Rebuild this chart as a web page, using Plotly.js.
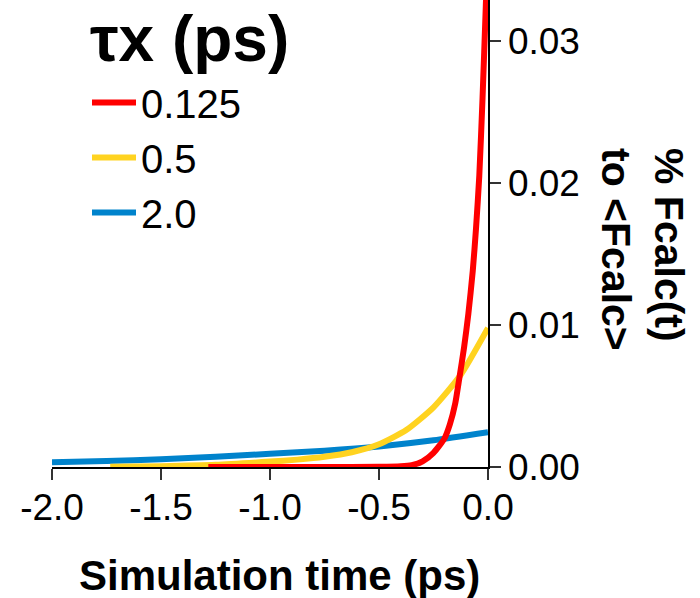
<!DOCTYPE html>
<html>
<head>
<meta charset="utf-8">
<script src="https://cdn.plot.ly/plotly-3.0.1.min.js"></script>
<style>
  html, body { margin: 0; padding: 0; background: #fff; }
  #chart { width: 700px; height: 598px; }
</style>
</head>
<body>
<div id="chart"></div>
<script>
// ---- data ----
const seriesNames = ['0.125', '0.5', '2.0'];
const seriesColors = ['#FF0000', '#FFD320', '#0083CC'];

const tRed = [-1.283, -1.0, -0.75, -0.5, -0.4, -0.35, -0.3, -0.25, -0.2, -0.175, -0.15, -0.132, -0.11, -0.09, -0.07, -0.055, -0.04, -0.025, -0.01, 0.0];
const wRed = [0.0, 0.0, 0.0, 0.00001, 0.00005, 0.00013, 0.0004, 0.001, 0.002, 0.003, 0.0045, 0.0062, 0.0084, 0.0108, 0.0138, 0.0168, 0.0205, 0.026, 0.0325, 0.037];

const tYellow = [-1.733, -1.5, -1.25, -1.0, -0.875, -0.75, -0.625, -0.5, -0.375, -0.25, -0.125, 0.0];
const wYellow = [0.00002, 0.00006, 0.00015, 0.00038, 0.00052, 0.00072, 0.00104, 0.0016, 0.0026, 0.0042, 0.0065, 0.0098];

const tBlue = [-2.0, -1.75, -1.5, -1.25, -1.0, -0.75, -0.5, -0.25, 0.0];
const wBlue = [0.00033, 0.00042, 0.00055, 0.00072, 0.00093, 0.00115, 0.00145, 0.00188, 0.00245];

const xTickVals = [-2.0, -1.5, -1.0, -0.5, 0.0];
const xTickText = ['-2.0', '-1.5', '-1.0', '-0.5', '0.0'];
const yTickVals = [0.0, 0.01, 0.02, 0.03];
const yTickText = ['0.00', '0.01', '0.02', '0.03'];

const legendTitle = 'τx (ps)';
const xTitle = 'Simulation time (ps)';
const yTitle = '% Fcalc(t)<br>to &lt;Fcalc&gt;';

// ---- figure ----
const FONT = '"Liberation Sans", Arial, sans-serif';
const xs = [tRed, tYellow, tBlue];
const ys = [wRed, wYellow, wBlue];

const traces = seriesNames.map((name, i) => ({
  type: 'scatter',
  mode: 'lines',
  name: name,
  x: xs[i],
  y: ys[i],
  line: { color: seriesColors[i], width: 6, shape: 'spline', smoothing: 0.6 },
  legendrank: i + 1,
  hoverinfo: 'skip'
}));
// draw order: blue first, yellow, red on top
const data = [traces[2], traces[1], traces[0]];

const layout = {
  width: 700,
  height: 598,
  margin: { l: 52, r: 212, t: 0, b: 131, pad: 0 },
  paper_bgcolor: '#ffffff',
  plot_bgcolor: '#ffffff',
  font: { family: FONT, color: '#000000' },
  showlegend: true,
  legend: {
    x: (35 - 0) / 436, xanchor: 'left',
    y: 1 - 70 / 467, yanchor: 'top',
    bgcolor: 'rgba(0,0,0,0)',
    borderwidth: 0,
    font: { family: FONT, size: 40, color: '#000' },
    traceorder: 'normal',
    itemwidth: 44,
    tracegroupgap: 0
  },
  xaxis: {
    range: [-2.0, 0.0],
    showline: true, linecolor: '#000', linewidth: 1.5,
    showgrid: false, zeroline: false,
    ticks: 'outside', ticklen: 11, tickwidth: 1.5, tickcolor: '#333',
    tickvals: xTickVals, ticktext: xTickText,
    ticklabelstandoff: -4,
    tickfont: { family: FONT, size: 37, color: '#000' },
    fixedrange: true
  },
  yaxis: {
    range: [0, 0.0329],
    side: 'right',
    showline: true, linecolor: '#000', linewidth: 1.5,
    showgrid: false, zeroline: false,
    ticks: 'outside', ticklen: 11, tickwidth: 1.5, tickcolor: '#333',
    tickvals: yTickVals, ticktext: yTickText,
    tickfont: { family: FONT, size: 37, color: '#000' },
    fixedrange: true
  },
  yaxis2: {
    overlaying: 'y', side: 'right', anchor: 'x',
    range: [0, 0.0329],
    showline: false, showgrid: false, zeroline: false,
    ticks: 'inside', ticklen: 10, tickwidth: 1.5, tickcolor: '#333',
    tickvals: yTickVals, showticklabels: false,
    fixedrange: true
  },
  annotations: [
    {
      xref: 'paper', yref: 'paper',
      x: (88 - 52) / 436, y: 1 - 39 / 467,
      xanchor: 'left', yanchor: 'middle',
      text: '<b>' + legendTitle + '</b>',
      showarrow: false,
      font: { family: FONT, size: 64, color: '#000' }
    },
    {
      xref: 'paper', yref: 'paper',
      x: (279 - 52) / 436, y: -(575 - 467) / 467,
      xanchor: 'center', yanchor: 'middle',
      text: '<b>' + xTitle + '</b>',
      showarrow: false,
      font: { family: FONT, size: 42, color: '#000' }
    },
    {
      xref: 'paper', yref: 'paper',
      x: (643 - 52) / 436, y: 1 - 249 / 467,
      xanchor: 'center', yanchor: 'middle',
      text: '<b>' + yTitle + '</b>',
      textangle: 90,
      align: 'left',
      showarrow: false,
      font: { family: FONT, size: 41, color: '#000' }
    }
  ]
};

Plotly.newPlot('chart', data, layout, { staticPlot: true, displayModeBar: false });
</script>
</body>
</html>
